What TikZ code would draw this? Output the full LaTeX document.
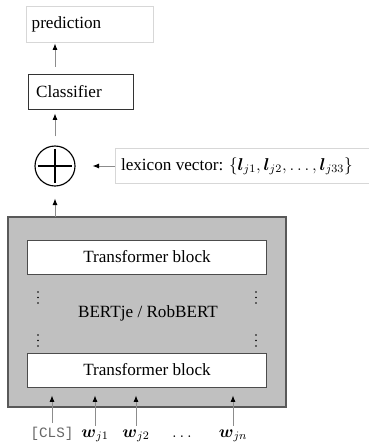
\documentclass[tikz,border=0pt]{standalone}
\usepackage{amsmath}
\usepackage{amssymb}
\usepackage{fontspec}
\setmainfont{Liberation Serif}
\setmonofont{Liberation Mono}
\usetikzlibrary{arrows.meta, positioning}
\definecolor{boxgray}{RGB}{192,192,192}
\definecolor{linegray}{RGB}{140,140,140}
\definecolor{edgegray}{RGB}{215,215,215}

\tikzset{
  flow/.style={draw=linegray, line width=0.6pt, -{Latex[black,length=4.5pt,width=3.5pt]}},
  plainbox/.style={draw=edgegray, line width=0.6pt, align=left, inner xsep=4pt, inner ysep=0pt},
  blockbox/.style={draw=black!70, fill=white, line width=0.7pt, minimum width=166.6pt, minimum height=23.8pt},
  token/.style={inner sep=1pt, anchor=base}
}

\begin{document}
\begin{tikzpicture}[x=0.7pt, y=-0.7pt, font=\fontsize{12}{14}\selectfont]
      \useasboundingbox (0,0) rectangle (369,443);
      % output side
      \node[plainbox, text width=80.9pt, minimum height=25.2pt] (pred) at (89.5, 24) {prediction};
      \node[draw=black!80, line width=0.7pt, align=left, inner xsep=5.6pt, text width=62.9pt, minimum height=24.5pt] (clf) at (81, 91.5) {Classifier};
      \node[circle, draw=black, line width=0.8pt, minimum size=28pt, inner sep=0pt] (plus) at (55, 166) {};
      \draw[line width=0.9pt, shorten <=2.4pt, shorten >=2.4pt] (plus.north) -- (plus.south);
      \draw[line width=0.9pt, shorten <=2.4pt, shorten >=2.4pt] (plus.west) -- (plus.east);
      \node[anchor=west, inner xsep=4pt] (lex) at (115, 166)
           {lexicon vector: $\{\boldsymbol{l}_{j1}, \boldsymbol{l}_{j2}, \ldots, \boldsymbol{l}_{j33}\}$};
      \draw[edgegray, line width=0.6pt] (lex.west |- 0,148.5) coordinate (lexnw) -- (lexnw -| 373,0) -- (373,183.5) -- (lex.west |- 0,183.5) -- cycle;
      % encoder
      \node[draw=black!65, fill=boxgray, line width=0.8pt, minimum width=194.6pt, minimum height=133pt] (bert) at (147, 312) {};
      \node[blockbox] (tb1) at (147, 257) {Transformer block};
      \node[blockbox] (tb2) at (147, 370) {Transformer block};
      \node (name) at (148, 313) {BERTje / RobBERT};
      \foreach \x in {38, 256}
        \foreach \y in {292, 297.5, 303, 335, 340.5, 346}
          \fill (\x, \y) circle (0.65pt);
      % inputs
      \node[token, text=black!60, font=\fontsize{10}{12}\selectfont] (cls) at (52, 437) {\texttt{[CLS]}};
      \node[token] (w1) at (95, 437) {$\boldsymbol{w}_{j1}$};
      \node[token] (w2) at (136, 437) {$\boldsymbol{w}_{j2}$};
      \node[token] (wdots) at (182, 437) {$\ldots$};
      \node[token] (wn) at (233, 437) {$\boldsymbol{w}_{jn}$};
      \foreach \t in {cls, w1, w2, wn}
        \draw[flow, shorten <=1.5pt, shorten >=5.6pt] (\t.north) -- (\t.north |- tb2.south);
      % connections
      \draw[flow, shorten >=8.4pt] (55, 217) coordinate (up) -- (up |- plus.south);
      \draw[flow, shorten <=6.3pt, shorten >=2.8pt] (plus.north) -- (plus.north |- clf.south);
      \draw[flow, shorten <=4.9pt, shorten >=0.7pt] (plus.north |- clf.north) -- (plus.north |- pred.south);
      \draw[flow, shorten >=11.9pt] (lex.west) -- (plus.east);
  \end{tikzpicture}
\end{document}
